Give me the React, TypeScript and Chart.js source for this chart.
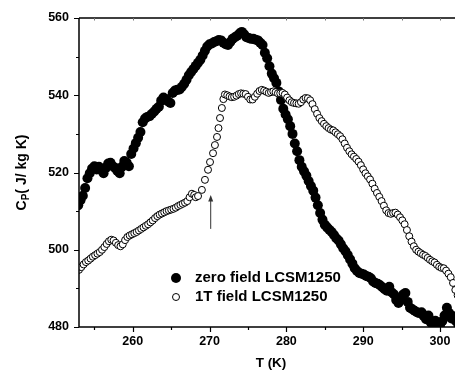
import React, { useEffect, useRef } from "react";
import { Chart, registerables } from "chart.js";

Chart.register(...registerables);

// ---- data ----
const tZero = [
  252.9, 253.2, 253.5, 253.8, 254.1, 254.4, 254.7, 255.0, 255.3, 255.6,
  255.9, 256.2, 256.5, 256.8, 257.1, 257.4, 257.7, 258.0, 258.3, 258.6,
  258.9, 259.2, 259.5, 259.8, 260.1, 260.4, 260.7, 261.0, 261.3, 261.6,
  261.9, 262.2, 262.5, 262.8, 263.1, 263.4, 263.7, 264.0, 264.3, 264.6,
  264.9, 265.2, 265.5, 265.8, 266.1, 266.4, 266.7, 267.0, 267.3, 267.6,
  267.9, 268.2, 268.5, 268.8, 269.1, 269.4, 269.7, 270.0, 270.3, 270.6,
  270.9, 271.2, 271.5, 271.8, 272.1, 272.4, 272.7, 273.0, 273.3, 273.6,
  273.9, 274.2, 274.5, 274.8, 275.1, 275.4, 275.7, 276.0, 276.3, 276.6,
  276.9, 277.2, 277.5, 277.8, 278.1, 278.4, 278.7, 279.0, 279.3, 279.6,
  279.9, 280.2, 280.5, 280.8, 281.1, 281.4, 281.7, 282.0, 282.3, 282.6,
  282.9, 283.2, 283.5, 283.8, 284.1, 284.4, 284.7, 285.0, 285.3, 285.6,
  285.9, 286.2, 286.5, 286.8, 287.1, 287.4, 287.7, 288.0, 288.3, 288.6,
  288.9, 289.2, 289.5, 289.8, 290.1, 290.4, 290.7, 291.0, 291.3, 291.6,
  291.9, 292.2, 292.5, 292.8, 293.1, 293.4, 293.7, 294.0, 294.3, 294.6,
  294.9, 295.2, 295.5, 295.8, 296.1, 296.4, 296.7, 297.0, 297.3, 297.6,
  297.9, 298.2, 298.5, 298.8, 299.1, 299.4, 299.7, 300.0, 300.3, 300.6,
  300.9, 301.2, 301.5, 301.8, 302.1, 302.4, 302.7,
];
const cpZero = [
  511.5, 512.8, 514.0, 516.0, 518.5, 519.8, 521.0, 521.6, 520.8, 521.5,
  520.6, 519.8, 521.2, 522.3, 522.5, 521.6, 521.2, 520.4, 519.8, 521.5,
  523.0, 522.6, 521.6, 524.8, 526.2, 527.6, 529.0, 530.5, 533.0, 534.0,
  534.4, 534.6, 535.2, 535.8, 536.5, 537.0, 538.6, 539.4, 539.0, 538.4,
  538.0, 540.6, 541.2, 541.4, 541.5, 542.2, 543.0, 544.0, 545.2, 546.0,
  546.8, 547.6, 548.4, 549.2, 550.3, 551.5, 552.6, 553.2, 553.4, 553.8,
  554.0, 554.3, 554.2, 553.6, 553.2, 553.0, 553.8, 554.6, 555.0, 555.4,
  556.0, 556.4, 555.8, 555.0, 554.8, 554.6, 554.6, 554.4, 554.2, 553.6,
  553.0, 551.0, 549.6, 547.5, 545.6, 544.4, 543.2, 541.0, 538.8, 536.5,
  535.0, 533.8, 532.0, 530.0, 527.5, 525.5, 523.2, 521.5, 520.3, 519.2,
  517.8, 516.5, 515.3, 513.5, 511.5, 509.5, 507.8, 506.5, 505.8, 505.2,
  504.6, 503.8, 503.0, 502.4, 501.4, 500.4, 499.6, 498.6, 497.5, 496.4,
  495.2, 494.5, 494.0, 493.8, 493.6, 493.2, 493.0, 492.6, 491.8, 491.4,
  491.2, 490.8, 490.3, 489.8, 489.4, 490.4, 489.0, 488.5, 487.0, 486.2,
  487.6, 488.4, 488.8, 486.5, 485.0, 484.6, 484.2, 483.8, 483.6, 483.8,
  482.8, 482.0, 483.0, 481.2, 480.8, 481.6, 481.0, 480.4, 481.5, 483.0,
  485.0, 483.6, 482.2, 482.8, 481.5, 480.6, 481.8,
];

const t1T = [
  253.0, 253.3, 253.6, 253.9, 254.2, 254.5, 254.8, 255.1, 255.4, 255.7,
  256.0, 256.3, 256.6, 256.9, 257.2, 257.5, 257.8, 258.1, 258.4, 258.7,
  259.0, 259.3, 259.6, 259.9, 260.2, 260.5, 260.8, 261.1, 261.4, 261.7,
  262.0, 262.3, 262.6, 262.9, 263.2, 263.5, 263.8, 264.1, 264.4, 264.7,
  265.0, 265.3, 265.6, 265.9, 266.2, 266.5, 266.8, 267.1, 267.4, 267.7,
  268.0, 268.2,
  268.5, 269.0, 269.4, 269.8, 270.06, 270.45, 270.7, 270.97, 271.16, 271.36,
  271.6, 271.8, 272.0,
  272.3, 272.6, 272.9, 273.2, 273.5, 273.8, 274.1, 274.4, 274.7, 275.0,
  275.3, 275.6, 275.9, 276.2, 276.5, 276.8, 277.1, 277.4, 277.7, 278.0,
  278.3, 278.6, 278.9, 279.2, 279.5, 279.8, 280.1, 280.4, 280.7, 281.0,
  281.3, 281.6, 281.9, 282.2, 282.5, 282.8, 283.1, 283.4, 283.7, 284.0,
  284.3, 284.6, 284.9, 285.2, 285.5, 285.8, 286.1, 286.4, 286.7, 287.0,
  287.3, 287.6, 287.9, 288.2, 288.5, 288.8, 289.1, 289.4, 289.7, 290.0,
  290.3, 290.6, 290.9, 291.2, 291.5, 291.8, 292.1, 292.4, 292.7, 293.0,
  293.3, 293.6, 293.9, 294.2, 294.5, 294.8, 295.1, 295.4, 295.7, 296.0,
  296.3, 296.6, 296.9, 297.2, 297.5, 297.8, 298.1, 298.4, 298.7, 299.0,
  299.3, 299.6, 299.9, 300.2, 300.5, 300.8, 301.1, 301.4, 301.7, 302.0,
  302.3, 302.6, 302.9,
];
const cp1T = [
  494.8, 495.5, 496.2, 496.8, 497.2, 497.7, 498.2, 498.6, 499.0, 499.4,
  500.0, 500.7, 501.5, 502.2, 502.6, 502.4, 501.8, 501.2, 500.9, 501.4,
  502.5, 503.3, 503.7, 504.0, 504.3, 504.6, 505.0, 505.4, 505.8, 506.2,
  506.6, 507.1, 507.6, 508.2, 508.7, 509.1, 509.4, 509.7, 510.0, 510.2,
  510.4, 510.6, 510.9, 511.3, 511.6, 511.9, 512.2, 512.6, 513.6, 514.5,
  514.2, 513.6,
  513.9, 515.5, 518.1, 520.7, 522.7, 525.0, 527.1, 529.2, 531.5, 534.1,
  536.7, 539.0, 540.2,
  540.0, 539.7, 539.5, 539.6, 539.9, 540.3, 540.5, 540.4, 540.3, 539.6,
  538.9, 538.9, 539.6, 540.4, 541.1, 541.4, 541.2, 540.9, 540.6, 540.8,
  541.0, 540.8, 540.5, 540.5, 540.6, 540.2, 539.4, 538.7, 538.2, 538.0,
  537.9, 537.8, 538.2, 538.9, 539.3, 539.2, 538.7, 537.7, 536.4, 535.2,
  534.1, 533.3, 532.6, 532.0, 531.5, 531.1, 530.9, 530.4, 529.9, 529.4,
  528.6, 527.5, 526.4, 525.5, 524.7, 524.1, 523.5, 522.8, 521.9, 520.8,
  519.8, 519.0, 518.2, 517.1, 515.8, 514.7, 513.7, 512.6, 511.4, 510.2,
  509.5, 509.3, 509.5, 509.6, 509.1, 508.4, 507.6, 506.6, 505.1, 503.5,
  502.1, 500.9, 500.0, 499.5, 499.1, 498.7, 498.4, 497.9, 497.4, 497.0,
  496.7, 496.1, 495.6, 495.3, 495.2, 494.6, 493.8, 492.9, 491.4, 489.6,
  488.2, 487.0, 486.0,
];

const xMajorTicks = [260, 270, 280, 290, 300];
const xMinorTicks = [255, 265, 275, 285, 295];
const yMajorTicks = [480, 500, 520, 540, 560];
const yMinorTicks = [490, 510, 530, 550];
const legendLabels = ["zero field LCSM1250", "1T field LCSM1250"];
const arrowT = 270.15;
const arrowCpTop = 514.2;
const arrowCpBottom = 505.4;

// ---- layout / style ----
const FONT = '"Liberation Sans", Arial, Helvetica, sans-serif';
const CANVAS_W = 475;
const CANVAS_H = 371;
const AREA_RIGHT = 463;

const decor = {
  id: "decor",
  afterDatasetsDraw(chart: any) {
    const { ctx, chartArea: a, scales } = chart;
    const xs = scales.x;
    const ys = scales.y;
    ctx.save();

    // axes frame
    ctx.strokeStyle = "#000";
    ctx.lineWidth = 1.5;
    ctx.beginPath();
    ctx.moveTo(a.left, a.top);
    ctx.lineTo(a.right, a.top);
    ctx.moveTo(a.left, a.top);
    ctx.lineTo(a.left, a.bottom);
    ctx.lineTo(a.right, a.bottom);
    ctx.moveTo(a.right, a.top);
    ctx.lineTo(a.right, a.bottom);
    ctx.stroke();

    // tick marks
    ctx.lineWidth = 1.2;
    ctx.beginPath();
    xMajorTicks.forEach((v) => {
      const px = Math.round(xs.getPixelForValue(v)) + 0.5;
      ctx.moveTo(px, a.bottom);
      ctx.lineTo(px, a.bottom + 5);
    });
    xMinorTicks.forEach((v) => {
      const px = Math.round(xs.getPixelForValue(v)) + 0.5;
      ctx.moveTo(px, a.bottom);
      ctx.lineTo(px, a.bottom + 3);
    });
    yMajorTicks.forEach((v) => {
      const py = Math.round(ys.getPixelForValue(v)) + 0.5;
      ctx.moveTo(a.left, py);
      ctx.lineTo(a.left - 5, py);
    });
    yMinorTicks.forEach((v) => {
      const py = Math.round(ys.getPixelForValue(v)) + 0.5;
      ctx.moveTo(a.left, py);
      ctx.lineTo(a.left - 3, py);
    });
    ctx.stroke();

    // faint inner ticks on the top axis
    ctx.strokeStyle = "#777";
    ctx.lineWidth = 1;
    ctx.beginPath();
    [...xMajorTicks, ...xMinorTicks].forEach((v) => {
      const px = Math.round(xs.getPixelForValue(v)) + 0.5;
      ctx.moveTo(px, a.top);
      ctx.lineTo(px, a.top + 2.5);
    });
    ctx.stroke();

    // y-axis title with subscript
    ctx.save();
    ctx.translate(21, (a.top + a.bottom) / 2);
    ctx.rotate(-Math.PI / 2);
    const big = `bold 14px ${FONT}`;
    const small = `bold 10px ${FONT}`;
    const rest = "( J/ kg K)";
    ctx.font = big;
    const wC = ctx.measureText("C").width;
    const wR = ctx.measureText(rest).width;
    ctx.font = small;
    const wP = ctx.measureText("P").width;
    let x = -(wC + wP + wR) / 2;
    const base = 5;
    ctx.fillStyle = "#000";
    ctx.textAlign = "left";
    ctx.textBaseline = "alphabetic";
    ctx.font = big;
    ctx.fillText("C", x, base);
    x += wC;
    ctx.font = small;
    ctx.fillText("P", x, base + 3);
    x += wP;
    ctx.font = big;
    ctx.fillText(rest, x, base);
    ctx.restore();

    // arrow
    const ax = xs.getPixelForValue(arrowT);
    const ay1 = ys.getPixelForValue(arrowCpTop);
    const ay2 = ys.getPixelForValue(arrowCpBottom);
    ctx.strokeStyle = "#333";
    ctx.fillStyle = "#333";
    ctx.lineWidth = 1;
    ctx.beginPath();
    ctx.moveTo(ax, ay2);
    ctx.lineTo(ax, ay1 + 4);
    ctx.stroke();
    ctx.beginPath();
    ctx.moveTo(ax, ay1);
    ctx.lineTo(ax - 2.5, ay1 + 6.5);
    ctx.lineTo(ax + 2.5, ay1 + 6.5);
    ctx.closePath();
    ctx.fill();

    // legend
    ctx.fillStyle = "#000";
    ctx.beginPath();
    ctx.arc(176, 278, 5, 0, Math.PI * 2);
    ctx.fill();
    ctx.beginPath();
    ctx.arc(176, 297, 3.5, 0, Math.PI * 2);
    ctx.fillStyle = "#fff";
    ctx.fill();
    ctx.strokeStyle = "#000";
    ctx.lineWidth = 1;
    ctx.stroke();
    ctx.fillStyle = "#000";
    ctx.font = `bold 15px ${FONT}`;
    ctx.textAlign = "left";
    ctx.textBaseline = "middle";
    ctx.fillText(legendLabels[0], 195, 278);
    ctx.fillText(legendLabels[1], 195, 297);

    ctx.restore();
  },
};

export default function App() {
  const ref = useRef<HTMLCanvasElement>(null);

  useEffect(() => {
    document.documentElement.style.overflow = "hidden";
    document.body.style.margin = "0";
    const canvas = ref.current;
    if (!canvas) return;
    const tickFont = { family: FONT, size: 12.5, weight: "bold" as const };
    const chart = new Chart(canvas, {
      type: "scatter",
      data: {
        datasets: [
          {
            label: legendLabels[1],
            data: t1T.map((t, i) => ({ x: t, y: cp1T[i] })),
            pointRadius: 3.5,
            pointBackgroundColor: "#fff",
            pointBorderColor: "#000",
            pointBorderWidth: 1,
            showLine: false,
            clip: 0,
          },
          {
            label: legendLabels[0],
            data: tZero.map((t, i) => ({ x: t, y: cpZero[i] })),
            pointRadius: 5,
            pointBackgroundColor: "#000",
            pointBorderColor: "#000",
            pointBorderWidth: 0,
            showLine: false,
            clip: 0,
          },
        ],
      },
      options: {
        animation: false,
        responsive: false,
        devicePixelRatio: 1,
        events: [],
        layout: { padding: { top: 18, right: CANVAS_W - AREA_RIGHT, bottom: 0, left: 0 } },
        plugins: { legend: { display: false }, tooltip: { enabled: false } },
        scales: {
          x: {
            type: "linear",
            min: 253,
            max: 303,
            afterBuildTicks: (s: any) => {
              s.ticks = xMajorTicks.map((v) => ({ value: v }));
            },
            afterFit: (s: any) => {
              s.height = 44;
            },
            grid: { display: false, drawTicks: false },
            border: { display: false },
            ticks: {
              autoSkip: false,
              maxRotation: 0,
              padding: 7,
              color: "#000",
              font: tickFont,
            },
            title: {
              display: true,
              text: "T (K)",
              color: "#000",
              padding: 0,
              font: { family: FONT, size: 13.5, weight: "bold", lineHeight: 1.1 },
            },
          },
          y: {
            type: "linear",
            min: 480,
            max: 560,
            afterBuildTicks: (s: any) => {
              s.ticks = yMajorTicks.map((v) => ({ value: v }));
            },
            afterFit: (s: any) => {
              s.width = 79;
            },
            grid: { display: false, drawTicks: false },
            border: { display: false },
            ticks: {
              autoSkip: false,
              padding: 10,
              color: "#000",
              font: tickFont,
            },
          },
        },
      },
      plugins: [decor],
    });
    return () => chart.destroy();
  }, []);

  return (
    <div style={{ position: "fixed", left: 0, top: 0 }}>
      <canvas ref={ref} width={CANVAS_W} height={CANVAS_H} style={{ display: "block" }} />
    </div>
  );
}
